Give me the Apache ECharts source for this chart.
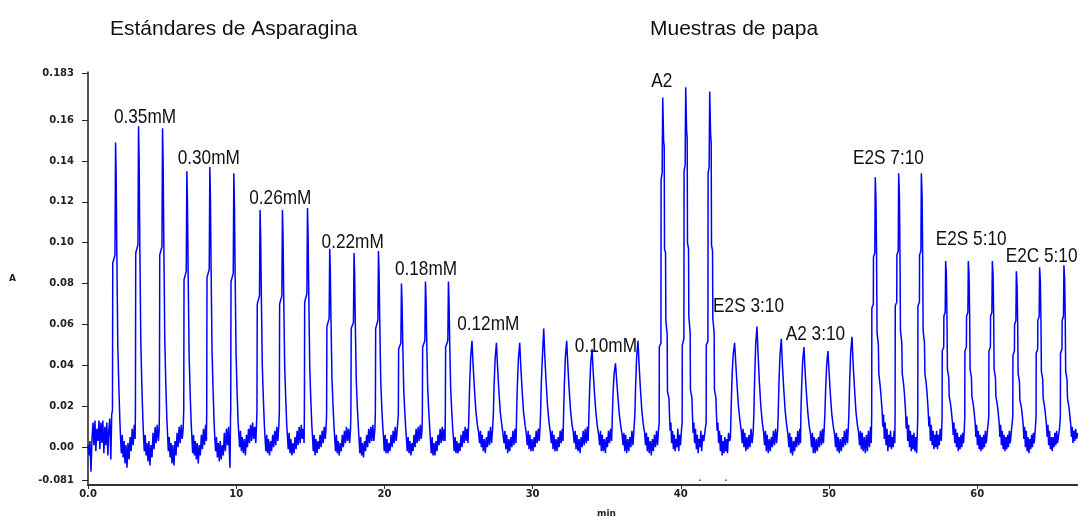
<!DOCTYPE html>
<html>
<head>
<meta charset="utf-8">
<script src="https://cdn.jsdelivr.net/npm/echarts@6/dist/echarts.min.js"></script>
<style>
  html, body { margin: 0; padding: 0; background: #fff; }
  #chart { width: 1078px; height: 517px; }
</style>
</head>
<body>
<div id="chart"></div>
<script>
// time (min) vs absorbance
const startNoise = [
  [0, 0.001], [0.07, -0.004], [0.13, 0.003], [0.2, -0.012], [0.27, 0.004], [0.34, 0.012], [0.4, 0.001],
  [0.47, 0.013], [0.53, -0.002], [0.6, 0.009], [0.67, 0.003], [0.74, 0.013], [0.8, -0.001], [0.87, 0.012],
  [0.94, 0.002], [1.0, 0.013], [1.07, -0.003], [1.14, 0.010], [1.2, 0.001], [1.27, 0.012], [1.34, -0.004],
  [1.4, 0.008], [1.47, 0.014], [1.54, -0.006], [1.6, 0.016]
];

// Estándares de Asparagina (0.35 -> 0.10 mM, 3 injections each)
const standardsTrace = [
  [1.65,0.018],[1.67,0.090],[1.82,0.094],[1.86,0.149],[1.9,0.133],[1.95,0.092],[2.01,0.050],[2.08,0.030],[2.15,0.013],
  [2.2,0.004],[2.25,-0.003],[2.31,0.006],[2.37,-0.005],[2.43,0.003],[2.5,-0.008],[2.56,0.001],[2.63,-0.010],[2.7,0.002],[2.77,-0.006],[2.84,0.005],[2.91,-0.002],[2.98,0.009],[3.05,0.001],[3.12,0.011],[3.18,0.004],
  [3.2,0.018],[3.22,0.095],[3.37,0.099],[3.41,0.157],[3.45,0.140],[3.5,0.097],[3.56,0.053],[3.63,0.031],[3.7,0.014],
  [3.75,0.005],[3.8,-0.002],[3.86,0.006],[3.92,-0.004],[3.98,0.002],[4.05,-0.007],[4.11,0.003],[4.18,-0.009],[4.25,0.001],[4.32,-0.005],[4.39,0.007],[4.46,-0.001],[4.53,0.010],[4.6,0.002],[4.67,0.011],[4.75,0.003],[4.8,0.008],
  [4.82,0.018],[4.84,0.094],[4.99,0.098],[5.03,0.156],[5.07,0.139],[5.12,0.097],[5.18,0.053],[5.25,0.031],[5.32,0.014],
  [5.37,0.006],[5.42,-0.002],[5.48,0.005],[5.54,-0.005],[5.6,0.002],[5.67,-0.008],[5.73,0.001],[5.8,-0.009],[5.87,0.003],[5.94,-0.004],[6.01,0.007],[6.08,0.000],[6.15,0.010],[6.22,0.002],[6.29,0.011],[6.36,0.004],[6.42,0.009],
  [6.46,0.018],[6.48,0.082],[6.63,0.086],[6.67,0.135],[6.71,0.120],[6.76,0.084],[6.82,0.046],[6.89,0.027],[6.96,0.012],
  [7.01,0.005],[7.06,-0.003],[7.12,0.006],[7.18,-0.004],[7.24,0.003],[7.31,-0.006],[7.37,0.002],[7.44,-0.008],[7.51,0.001],[7.58,-0.004],[7.65,0.006],[7.72,-0.001],[7.79,0.009],[7.86,0.001],[7.93,0.011],[7.99,0.003],
  [8.01,0.017],[8.03,0.083],[8.18,0.087],[8.22,0.137],[8.26,0.122],[8.31,0.085],[8.37,0.047],[8.44,0.028],[8.51,0.012],
  [8.56,0.004],[8.61,-0.002],[8.67,0.005],[8.73,-0.005],[8.79,0.002],[8.86,-0.007],[8.92,0.003],[8.99,-0.006],[9.06,0.001],[9.13,-0.004],[9.2,0.007],[9.27,-0.002],[9.34,0.009],[9.41,0.001],[9.48,0.010],[9.58,-0.010],[9.62,0.016],
  [9.63,0.018],[9.65,0.081],[9.8,0.085],[9.84,0.134],[9.88,0.119],[9.93,0.083],[9.99,0.046],[10.06,0.027],[10.13,0.012],
  [10.18,0.006],[10.23,0.000],[10.29,0.008],[10.35,-0.002],[10.41,0.005],[10.48,-0.003],[10.55,0.004],[10.62,-0.004],[10.69,0.006],[10.76,0.000],[10.83,0.009],[10.9,0.002],[10.97,0.011],[11.04,0.003],[11.11,0.012],[11.18,0.004],[11.25,0.010],[11.32,0.002],[11.38,0.013],
  [11.4,0.017],[11.42,0.070],[11.57,0.074],[11.61,0.116],[11.65,0.103],[11.7,0.072],[11.76,0.040],[11.83,0.024],[11.9,0.011],
  [11.95,0.004],[12.0,-0.002],[12.06,0.006],[12.12,-0.003],[12.18,0.004],[12.25,-0.004],[12.32,0.003],[12.39,-0.002],[12.46,0.006],[12.53,0.000],[12.6,0.008],[12.67,0.001],[12.74,0.010],[12.81,0.003],[12.88,0.011],
  [12.91,0.017],[12.93,0.070],[13.08,0.074],[13.12,0.116],[13.16,0.103],[13.21,0.072],[13.27,0.040],[13.34,0.024],[13.41,0.011],
  [13.46,0.005],[13.51,-0.001],[13.57,0.007],[13.63,-0.003],[13.69,0.004],[13.76,-0.004],[13.83,0.002],[13.9,-0.003],[13.97,0.005],[14.04,-0.001],[14.11,0.008],[14.18,0.001],[14.25,0.010],[14.32,0.002],[14.39,0.011],[14.46,0.004],[14.53,0.009],[14.58,0.002],
  [14.6,0.017],[14.62,0.071],[14.77,0.075],[14.81,0.117],[14.85,0.104],[14.9,0.073],[14.96,0.040],[15.03,0.024],[15.1,0.011],
  [15.15,0.005],[15.2,-0.002],[15.26,0.006],[15.32,-0.004],[15.38,0.004],[15.45,-0.003],[15.52,0.003],[15.59,-0.001],[15.66,0.006],[15.73,0.000],[15.8,0.008],[15.87,0.002],[15.94,0.010],[16.01,0.004],[16.08,0.012],
  [16.1,0.017],[16.12,0.059],[16.27,0.063],[16.31,0.097],[16.35,0.086],[16.4,0.060],[16.46,0.034],[16.53,0.021],[16.6,0.010],
  [16.65,0.004],[16.7,-0.002],[16.76,0.006],[16.82,-0.003],[16.88,0.003],[16.95,-0.004],[17.02,0.002],[17.09,-0.002],[17.16,0.006],[17.23,0.000],[17.3,0.008],[17.37,0.002],[17.44,0.010],[17.51,0.003],[17.58,0.009],[17.65,0.002],[17.71,0.008],
  [17.74,0.017],[17.76,0.058],[17.91,0.061],[17.95,0.095],[17.99,0.085],[18.04,0.059],[18.1,0.033],[18.17,0.020],[18.24,0.010],
  [18.29,0.004],[18.34,-0.003],[18.4,0.005],[18.46,-0.004],[18.52,0.002],[18.59,-0.005],[18.66,0.003],[18.73,-0.002],[18.8,0.006],[18.87,0.000],[18.94,0.009],[19.01,0.002],[19.08,0.010],[19.15,0.003],[19.22,0.011],[19.29,0.003],[19.36,0.009],
  [19.39,0.017],[19.41,0.058],[19.56,0.062],[19.6,0.096],[19.64,0.085],[19.69,0.060],[19.75,0.033],[19.82,0.020],[19.89,0.010],
  [19.94,0.005],[19.99,-0.002],[20.05,0.006],[20.11,-0.003],[20.17,0.004],[20.24,-0.003],[20.31,0.002],[20.38,-0.002],[20.45,0.006],[20.52,0.000],[20.59,0.008],[20.66,0.002],[20.73,0.010],[20.8,0.003],[20.87,0.009],
  [20.94,0.016],[20.96,0.048],[21.11,0.051],[21.15,0.080],[21.19,0.071],[21.24,0.050],[21.3,0.029],[21.37,0.018],[21.44,0.009],
  [21.49,0.004],[21.54,-0.002],[21.6,0.005],[21.66,-0.003],[21.72,0.003],[21.79,-0.004],[21.86,0.002],[21.93,-0.002],[22.0,0.006],[22.07,0.000],[22.14,0.009],[22.21,0.002],[22.28,0.010],[22.35,0.003],[22.42,0.011],[22.49,0.004],[22.54,0.009],
  [22.56,0.016],[22.58,0.049],[22.73,0.052],[22.77,0.081],[22.81,0.072],[22.86,0.050],[22.92,0.029],[22.99,0.018],[23.06,0.009],
  [23.11,0.003],[23.16,-0.003],[23.22,0.005],[23.28,-0.004],[23.34,0.002],[23.41,-0.004],[23.48,0.003],[23.55,-0.002],[23.62,0.006],[23.69,0.001],[23.76,0.009],[23.83,0.002],[23.9,0.010],[23.97,0.003],[24.04,0.009],[24.09,0.003],
  [24.11,0.016],[24.13,0.049],[24.28,0.052],[24.32,0.081],[24.36,0.072],[24.41,0.050],[24.47,0.029],[24.54,0.018],[24.61,0.009],
  [24.66,0.004],[24.71,-0.002],[24.77,0.005],[24.83,-0.003],[24.89,0.003],[24.96,-0.003],[25.03,0.002],[25.1,-0.002],[25.17,0.006],[25.24,0.000],[25.31,0.008],[25.38,0.002],[25.45,0.010],[25.52,0.003],[25.58,0.009],[25.64,0.002],
  [25.7,0.016],[25.75,0.030],[25.82,0.044],[25.91,0.052],[25.98,0.041],[26.07,0.029],[26.17,0.018],[26.27,0.011],[26.36,0.007],
  [26.42,0.002],[26.48,0.008],[26.54,0.000],[26.6,0.006],[26.67,-0.002],[26.74,0.004],[26.81,-0.003],[26.88,0.005],[26.95,0.000],[27.02,0.008],[27.09,0.001],[27.16,0.010],[27.23,0.002],[27.3,0.009],
  [27.35,0.016],[27.4,0.030],[27.47,0.043],[27.56,0.051],[27.63,0.040],[27.72,0.028],[27.82,0.017],[27.92,0.011],[28.01,0.006],
  [28.07,0.002],[28.13,0.008],[28.19,-0.001],[28.25,0.006],[28.32,-0.003],[28.39,0.004],[28.46,-0.002],[28.53,0.005],[28.6,0.000],[28.67,0.008],[28.74,0.001],[28.81,0.009],[28.88,0.002],
  [28.92,0.016],[28.97,0.030],[29.04,0.043],[29.13,0.051],[29.2,0.040],[29.29,0.028],[29.39,0.017],[29.49,0.011],[29.58,0.006],
  [29.64,0.001],[29.7,0.008],[29.76,-0.001],[29.82,0.006],[29.89,-0.002],[29.96,0.004],[30.03,-0.002],[30.1,0.005],[30.17,0.000],[30.24,0.008],[30.31,0.002],[30.38,0.009],[30.45,0.003],[30.5,0.010],
  [30.54,0.017],[30.59,0.032],[30.66,0.044],[30.75,0.058],[30.82,0.045],[30.91,0.032],[31.01,0.020],[31.11,0.012],[31.2,0.007],
  [31.26,0.002],[31.32,0.008],[31.38,-0.001],[31.44,0.006],[31.51,-0.002],[31.58,0.004],[31.65,-0.002],[31.72,0.005],[31.79,0.000],[31.86,0.008],[31.93,0.002],[32.0,0.009],[32.05,0.003],
  [32.09,0.016],[32.14,0.030],[32.21,0.044],[32.3,0.052],[32.37,0.041],[32.46,0.029],[32.56,0.018],[32.66,0.011],[32.75,0.007],
  [32.81,0.002],[32.87,0.008],[32.93,-0.001],[32.99,0.006],[33.06,-0.002],[33.13,0.004],[33.2,-0.003],[33.27,0.005],[33.34,0.000],[33.41,0.008],[33.48,0.001],[33.55,0.009],[33.62,0.002],[33.69,0.010],[33.75,0.003],
  [33.8,0.016],[33.85,0.029],[33.92,0.041],[34.01,0.048],[34.08,0.038],[34.17,0.027],[34.27,0.017],[34.37,0.010],[34.46,0.006],
  [34.52,0.001],[34.58,0.008],[34.64,-0.002],[34.7,0.006],[34.77,-0.002],[34.84,0.004],[34.91,-0.003],[34.98,0.005],[35.05,0.000],[35.12,0.008],[35.19,0.002],[35.26,0.009],[35.33,0.003],
  [35.38,0.015],[35.43,0.027],[35.5,0.036],[35.59,0.041],[35.66,0.034],[35.75,0.025],[35.85,0.016],[35.95,0.010],[36.04,0.006],
  [36.1,0.001],[36.16,0.007],[36.22,-0.002],[36.28,0.006],[36.35,-0.003],[36.42,0.004],[36.49,-0.002],[36.56,0.005],[36.63,0.000],[36.7,0.008],[36.77,0.001],[36.84,0.009],
  [36.9,0.016],[36.95,0.030],[37.02,0.044],[37.11,0.052],[37.18,0.041],[37.27,0.029],[37.37,0.018],[37.47,0.011],[37.56,0.007],
  [37.62,0.001],[37.68,0.007],[37.74,-0.002],[37.8,0.005],[37.87,-0.003],[37.94,0.003],[38.01,-0.004],[38.08,0.004],[38.15,-0.002],[38.22,0.006],[38.29,0.000],[38.36,0.008],[38.43,0.001],[38.5,0.009]
];

// Muestras de papa
const samplesTrace = [
  [38.54,0.012],[38.55,0.049],[38.66,0.051],[38.67,0.131],[38.74,0.134],[38.78,0.171],[38.84,0.150],[38.88,0.147],[38.9,0.097],[38.97,0.095],[38.99,0.062],[39.08,0.055],[39.1,0.027],[39.2,0.024],[39.23,0.017],
  [39.28,0.008],[39.33,0.012],[39.38,0.002],[39.44,0.008],[39.5,-0.001],[39.56,0.006],[39.62,-0.002],[39.68,0.004],[39.74,0.000],[39.8,0.009],[39.86,-0.002],[39.92,0.006],[39.98,0.001],[40.04,0.008],
  [40.09,0.012],[40.1,0.050],[40.21,0.053],[40.22,0.135],[40.29,0.138],[40.33,0.176],[40.39,0.155],[40.43,0.151],[40.45,0.100],[40.52,0.097],[40.54,0.064],[40.63,0.056],[40.65,0.028],[40.75,0.024],[40.78,0.017],
  [40.83,0.007],[40.88,0.012],[40.93,0.002],[40.99,0.009],[41.05,-0.001],[41.11,0.006],[41.17,-0.003],[41.23,0.004],[41.29,0.000],[41.35,0.008],[41.41,-0.002],[41.47,0.006],[41.55,0.003],[41.65,0.009],
  [41.71,0.012],[41.72,0.050],[41.83,0.052],[41.84,0.134],[41.91,0.137],[41.95,0.174],[42.01,0.153],[42.05,0.149],[42.07,0.099],[42.14,0.096],[42.16,0.063],[42.25,0.056],[42.27,0.028],[42.37,0.024],[42.4,0.017],
  [42.45,0.008],[42.5,0.012],[42.55,0.002],[42.61,0.008],[42.67,-0.002],[42.73,0.006],[42.79,-0.004],[42.85,0.003],[42.91,-0.003],[42.97,0.005],[43.03,-0.002],[43.09,0.004],[43.15,-0.003],[43.22,0.007],[43.3,0.003],
  [43.35,0.005],[43.4,0.020],[43.46,0.035],[43.53,0.045],[43.63,0.051],[43.7,0.042],[43.79,0.031],[43.89,0.020],[43.99,0.013],[44.08,0.008],
  [44.14,0.002],[44.2,0.009],[44.26,0.000],[44.32,0.007],[44.39,-0.002],[44.46,0.005],[44.53,-0.001],[44.6,0.006],[44.67,0.000],[44.74,0.009],[44.81,0.002],[44.88,0.007],
  [44.93,0.016],[44.98,0.033],[45.05,0.050],[45.14,0.059],[45.21,0.046],[45.3,0.032],[45.4,0.020],[45.5,0.012],[45.59,0.007],
  [45.65,0.001],[45.71,0.008],[45.77,-0.002],[45.83,0.006],[45.9,-0.003],[45.97,0.004],[46.04,-0.002],[46.11,0.005],[46.18,0.000],[46.25,0.008],[46.32,0.001],[46.39,0.009],[46.46,0.002],[46.53,0.008],
  [46.57,0.016],[46.62,0.031],[46.69,0.045],[46.78,0.053],[46.85,0.041],[46.94,0.029],[47.04,0.018],[47.14,0.011],[47.23,0.006],
  [47.29,0.000],[47.35,0.007],[47.41,-0.003],[47.47,0.005],[47.54,-0.004],[47.61,0.003],[47.68,-0.002],[47.75,0.005],[47.82,0.000],[47.89,0.008],[47.96,0.001],[48.03,0.009],[48.08,0.002],
  [48.1,0.016],[48.15,0.029],[48.22,0.042],[48.31,0.049],[48.38,0.038],[48.47,0.027],[48.57,0.017],[48.67,0.010],[48.76,0.006],
  [48.82,0.000],[48.88,0.007],[48.94,-0.003],[49.0,0.005],[49.07,-0.003],[49.14,0.004],[49.21,-0.002],[49.28,0.005],[49.35,0.000],[49.42,0.008],[49.49,0.001],[49.56,0.009],[49.62,0.002],[49.67,0.008],
  [49.72,0.016],[49.77,0.028],[49.84,0.040],[49.93,0.047],[50.0,0.037],[50.09,0.026],[50.19,0.016],[50.29,0.010],[50.38,0.006],
  [50.44,0.000],[50.5,0.007],[50.56,-0.002],[50.62,0.005],[50.69,-0.003],[50.76,0.004],[50.83,-0.002],[50.9,0.005],[50.97,0.000],[51.04,0.008],[51.11,0.001],[51.18,0.009],[51.25,0.002],[51.3,0.009],
  [51.34,0.016],[51.39,0.031],[51.46,0.046],[51.55,0.054],[51.62,0.042],[51.71,0.030],[51.81,0.018],[51.91,0.011],[52.0,0.007],
  [52.06,0.001],[52.12,0.008],[52.18,-0.001],[52.24,0.007],[52.31,-0.002],[52.38,0.005],[52.45,-0.003],[52.52,0.006],[52.59,-0.002],[52.66,0.008],[52.73,0.000],[52.8,0.010],[52.85,0.002],
  [52.88,0.016],[52.89,0.068],[52.99,0.070],[53.0,0.093],[53.09,0.095],[53.12,0.132],[53.17,0.121],[53.21,0.093],[53.24,0.056],[53.33,0.050],[53.36,0.036],[53.45,0.030],[53.5,0.026],[53.58,0.018],
  [53.63,0.010],[53.68,0.016],[53.73,0.004],[53.79,0.012],[53.85,0.001],[53.91,0.009],[53.97,-0.002],[54.03,0.006],[54.09,0.000],[54.15,0.008],[54.21,-0.001],[54.27,0.005],[54.33,0.000],[54.39,0.008],[54.44,0.002],
  [54.46,0.016],[54.47,0.069],[54.57,0.071],[54.58,0.094],[54.67,0.096],[54.7,0.134],[54.75,0.123],[54.79,0.094],[54.82,0.057],[54.91,0.051],[54.94,0.036],[55.03,0.031],[55.08,0.027],[55.16,0.018],
  [55.21,0.009],[55.26,0.015],[55.31,0.003],[55.37,0.011],[55.43,0.000],[55.49,0.008],[55.55,-0.002],[55.61,0.006],[55.67,-0.001],[55.73,0.007],[55.79,-0.002],[55.85,0.005],[55.91,-0.003],[55.96,0.007],
  [55.99,0.016],[56.0,0.069],[56.1,0.071],[56.11,0.094],[56.2,0.096],[56.23,0.134],[56.28,0.123],[56.32,0.094],[56.35,0.057],[56.44,0.051],[56.47,0.036],[56.56,0.031],[56.61,0.027],[56.69,0.018],
  [56.74,0.010],[56.79,0.015],[56.84,0.003],[56.9,0.011],[56.96,0.001],[57.02,0.008],[57.08,-0.001],[57.14,0.006],[57.2,0.000],[57.26,0.008],[57.32,-0.001],[57.38,0.006],[57.44,0.001],[57.5,0.009],[57.58,0.003],
  [57.63,0.015],[57.64,0.047],[57.74,0.049],[57.75,0.064],[57.84,0.066],[57.87,0.091],[57.92,0.084],[57.96,0.064],[57.99,0.038],[58.08,0.034],[58.11,0.025],[58.2,0.021],[58.25,0.018],[58.33,0.012],
  [58.38,0.006],[58.43,0.012],[58.48,0.002],[58.54,0.009],[58.6,0.000],[58.66,0.007],[58.72,-0.002],[58.78,0.005],[58.84,-0.001],[58.9,0.006],[58.96,0.000],[59.02,0.007],[59.08,0.002],[59.13,0.009],
  [59.16,0.015],[59.17,0.047],[59.27,0.049],[59.28,0.064],[59.37,0.066],[59.4,0.091],[59.45,0.084],[59.49,0.064],[59.52,0.038],[59.61,0.034],[59.64,0.025],[59.73,0.021],[59.78,0.018],[59.86,0.012],
  [59.91,0.005],[59.96,0.011],[60.01,0.001],[60.07,0.008],[60.13,-0.001],[60.19,0.006],[60.25,-0.002],[60.31,0.005],[60.37,-0.001],[60.43,0.006],[60.49,0.000],[60.55,0.008],[60.61,0.002],[60.7,0.009],
  [60.78,0.015],[60.79,0.047],[60.89,0.049],[60.9,0.064],[60.99,0.066],[61.02,0.091],[61.07,0.084],[61.11,0.064],[61.14,0.038],[61.23,0.034],[61.26,0.025],[61.35,0.021],[61.4,0.018],[61.48,0.012],
  [61.53,0.005],[61.58,0.011],[61.63,0.001],[61.69,0.008],[61.75,-0.001],[61.81,0.006],[61.87,-0.002],[61.93,0.005],[61.99,-0.001],[62.05,0.006],[62.11,0.000],[62.17,0.008],[62.23,0.002],[62.32,0.009],
  [62.4,0.015],[62.41,0.045],[62.51,0.047],[62.52,0.060],[62.61,0.062],[62.64,0.086],[62.69,0.079],[62.73,0.060],[62.76,0.036],[62.85,0.032],[62.88,0.023],[62.97,0.020],[63.02,0.017],[63.1,0.011],
  [63.15,0.004],[63.2,0.010],[63.25,0.000],[63.31,0.008],[63.37,-0.002],[63.43,0.005],[63.49,-0.003],[63.55,0.004],[63.61,-0.001],[63.67,0.006],[63.73,0.000],[63.79,0.007],[63.85,0.002],[63.92,0.009],
  [63.97,0.015],[63.98,0.046],[64.08,0.048],[64.09,0.062],[64.18,0.064],[64.21,0.088],[64.26,0.081],[64.3,0.062],[64.33,0.037],[64.42,0.033],[64.45,0.024],[64.54,0.020],[64.59,0.017],[64.67,0.011],
  [64.72,0.005],[64.77,0.011],[64.82,0.001],[64.88,0.008],[64.94,-0.001],[65.0,0.005],[65.06,-0.002],[65.12,0.005],[65.18,0.000],[65.24,0.007],[65.3,0.001],[65.36,0.008],[65.42,0.002],[65.55,0.009],
  [65.61,0.015],[65.62,0.046],[65.72,0.048],[65.73,0.062],[65.82,0.064],[65.85,0.089],[65.9,0.082],[65.94,0.062],[65.97,0.037],[66.06,0.033],[66.09,0.024],[66.18,0.020],[66.23,0.017],[66.31,0.011],
  [66.36,0.005],[66.41,0.010],[66.46,0.002],[66.52,0.008],[66.58,0.003],[66.64,0.009],[66.7,0.004],[66.78,0.007]
];

// stray points near the bottom of the frame
const strayPoints = [[41.28, -0.0162], [43.04, -0.0162]];

// annotation text and the (min, A) spot where each one starts
const peakLabels = [
  ['0.35mM', 1.75, 0.1614],
  ['0.30mM', 6.05, 0.1413],
  ['0.26mM', 10.88, 0.1217],
  ['0.22mM', 15.76, 0.1002],
  ['0.18mM', 20.71, 0.0872],
  ['0.12mM', 24.91, 0.0603],
  ['0.10mM', 32.85, 0.0493],
  ['A2', 38.01, 0.1792],
  ['E2S 3:10', 42.18, 0.0691],
  ['A2 3:10', 47.08, 0.0554],
  ['E2S 7:10', 51.62, 0.1411],
  ['E2S 5:10', 57.2, 0.1019],
  ['E2C 5:10', 61.92, 0.0936]
];

const yTickValues = [-0.0163, 0, 0.02, 0.04, 0.06, 0.08, 0.10, 0.12, 0.14, 0.16, 0.183];
const yTickText = ['-0.081', '0.00', '0.02', '0.04', '0.06', '0.08', '0.10', '0.12', '0.14', '0.16', '0.183'];

const trace = startNoise.concat(standardsTrace, samplesTrace);

const chart = echarts.init(document.getElementById('chart'));
const tickFont = { fontFamily: 'DejaVu Sans', fontSize: 10, fontWeight: 'bold', color: '#222' };
const titleStyle = { fontFamily: 'Liberation Sans', fontSize: 21, fontWeight: 'normal', color: '#111' };

chart.setOption({
  animation: false,
  backgroundColor: '#fff',
  title: [
    { text: 'Estándares de Asparagina', left: 105, top: 14, textStyle: titleStyle },
    { text: 'Muestras de papa', left: 645, top: 14, textStyle: titleStyle }
  ],
  grid: { left: 88, right: 0, top: 72, bottom: 32 },
  xAxis: {
    type: 'value',
    min: 0,
    max: 66.8,
    interval: 10,
    splitLine: { show: false },
    axisLine: { onZero: false, lineStyle: { color: '#333', width: 2 } },
    axisTick: { length: 4, lineStyle: { color: '#333' } },
    axisLabel: Object.assign({ margin: 4, showMaxLabel: false,
      formatter: (v) => (v === 0 ? '0.0' : String(v)) }, tickFont)
  },
  yAxis: {
    type: 'value',
    min: -0.0185,
    max: 0.1835,
    name: 'A',
    nameLocation: 'middle',
    nameGap: 72,
    nameRotate: 0,
    nameTextStyle: { fontFamily: 'DejaVu Sans', fontSize: 9, fontWeight: 'bold', color: '#222' },
    splitLine: { show: false },
    axisLine: { show: true, lineStyle: { color: '#222', width: 1.5 } },
    axisTick: { show: true, length: 6, customValues: yTickValues, lineStyle: { color: '#222' } },
    axisLabel: Object.assign({
      margin: 14,
      customValues: yTickValues,
      formatter: (v) => yTickText[yTickValues.indexOf(v)] || ''
    }, tickFont)
  },
  series: [
    {
      type: 'line',
      data: trace,
      showSymbol: false,
      symbol: 'none',
      lineStyle: { color: '#0000ff', width: 1.5 },
      z: 3
    },
    {
      type: 'scatter',
      data: strayPoints,
      symbol: 'rect',
      symbolSize: [1.5, 1.5],
      itemStyle: { color: '#0000ff' }
    }
  ]
});

// peak annotations: placed through the axes, squeezed to mimic the narrow face of the original
const notes = peakLabels.map((p) => {
  const pt = chart.convertToPixel({ xAxisIndex: 0, yAxisIndex: 0 }, [p[1], p[2]]);
  return {
    type: 'text',
    x: pt[0],
    y: pt[1],
    scaleX: 0.82,
    z: 10,
    style: { text: p[0], font: '21px "Liberation Sans"', fill: '#111', verticalAlign: 'middle' }
  };
});
notes.push({
  type: 'text', left: 597, top: 509,
  style: { text: 'min', font: 'bold 9px "DejaVu Sans"', fill: '#222' }
});
chart.setOption({ graphic: notes });
</script>
</body>
</html>
